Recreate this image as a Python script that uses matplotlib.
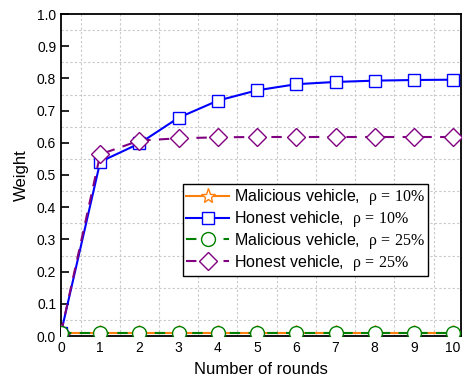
import numpy as np
import matplotlib
matplotlib.use("Agg")
import matplotlib.pyplot as plt
from matplotlib.ticker import MultipleLocator

plt.rcParams['font.family'] = ['Liberation Sans', 'DejaVu Sans']
plt.rcParams['mathtext.fontset'] = 'custom'
plt.rcParams['mathtext.rm'] = 'Liberation Serif'
plt.rcParams['mathtext.it'] = 'Liberation Serif'

rounds = [0, 1, 2, 3, 4, 5, 6, 7, 8, 9, 10]
malicious_10 = [0.01, 0.01, 0.01, 0.01, 0.01, 0.01, 0.01, 0.01, 0.01, 0.01, 0.01]
honest_10 = [0.01, 0.541, 0.598, 0.678, 0.731, 0.763, 0.782, 0.789, 0.793, 0.795, 0.796]
malicious_25 = [0.01, 0.01, 0.01, 0.01, 0.01, 0.01, 0.01, 0.01, 0.01, 0.01, 0.01]
honest_25 = [0.01, 0.564, 0.607, 0.614, 0.617, 0.618, 0.618, 0.618, 0.618, 0.618, 0.618]

labels = [r"Malicious vehicle,  $\mathrm{\rho\,=\,10\%}$",
          r"Honest vehicle,  $\mathrm{\rho\,=\,10\%}$",
          r"Malicious vehicle,  $\mathrm{\rho\,=\,25\%}$",
          r"Honest vehicle,  $\mathrm{\rho\,=\,25\%}$"]

fig = plt.figure(figsize=(4.64, 3.86), dpi=100)
ax = fig.add_axes([61/464, 50/386, 400/464, 322/386])

ax.plot(rounds, malicious_10, color="#FF7F0E", lw=1.5, marker="*", ms=11,
        mfc="white", mec="#FF7F0E", label=labels[0], zorder=3)
ax.plot(rounds, honest_10, color="#0000FF", lw=1.5, marker="s", ms=9,
        mfc="white", mec="#0000FF", label=labels[1], zorder=4)
ax.plot(rounds, malicious_25, color="#008000", lw=1.5, ls=(0, (5, 4)), marker="o", ms=10,
        mfc="white", mec="#008000", label=labels[2], zorder=5)
ax.plot(rounds, honest_25, color="#800080", lw=1.5, ls=(0, (5, 4)), marker="D", ms=9,
        mfc="white", mec="#800080", label=labels[3], zorder=4)

ax.set_xlim(0, 10.2)
ax.set_ylim(0, 1.0)
ax.xaxis.set_major_locator(MultipleLocator(1))
ax.xaxis.set_minor_locator(MultipleLocator(0.5))
ax.yaxis.set_major_locator(MultipleLocator(0.1))
ax.yaxis.set_minor_locator(MultipleLocator(0.05))
ax.yaxis.set_major_formatter(matplotlib.ticker.FormatStrFormatter("%.1f"))
ax.grid(which="minor", color="#c8c8c8", ls=(0, (2, 2)), lw=0.8)
ax.tick_params(which="major", direction="in", length=6, width=1.2, labelsize=10)
ax.tick_params(which="minor", length=0)
for s in ax.spines.values():
    s.set_linewidth(1.3)

ax.set_xlabel("Number of rounds", fontsize=12, labelpad=5)
ax.set_ylabel("Weight", fontsize=12, labelpad=6)

leg = ax.legend(loc="upper left", bbox_to_anchor=(122/400, (336-184)/322), fontsize=11.5,
                frameon=True, fancybox=False, edgecolor="black", framealpha=1,
                handlelength=2.7, borderpad=0.2, labelspacing=0.12, handletextpad=0.3,
                borderaxespad=0)
leg.get_frame().set_linewidth(1.0)

fig.savefig("out.png", dpi=100)
